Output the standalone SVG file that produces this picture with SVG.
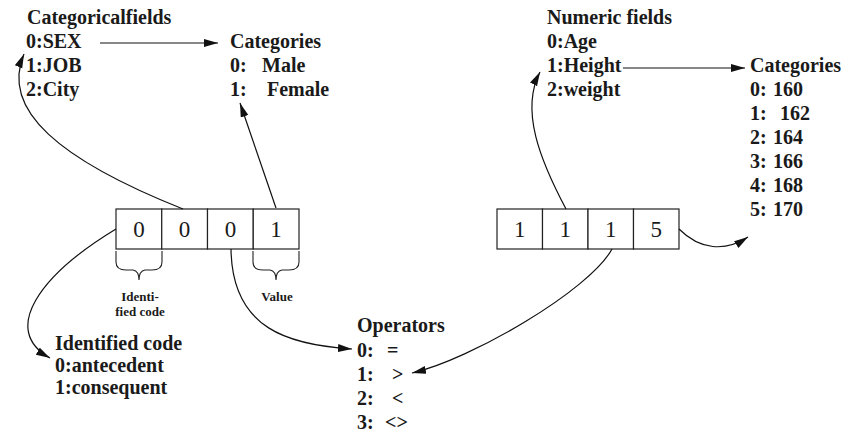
<svg xmlns="http://www.w3.org/2000/svg" width="856" height="433" viewBox="0 0 856 433">
<defs>
<marker id="ah" markerUnits="userSpaceOnUse" markerWidth="15" markerHeight="10" refX="14" refY="4" orient="auto">
<path d="M0,0 L14,4 L0,8 z" fill="#111"/>
</marker>
<style>
.t{font-family:"Liberation Serif","Times New Roman",serif;font-weight:bold;font-size:20px;fill:#1a1a1a}
.s{font-family:"Liberation Serif","Times New Roman",serif;font-weight:bold;font-size:13px;fill:#1a1a1a;text-anchor:middle}
.d{font-family:"Liberation Serif","Times New Roman",serif;font-size:23px;fill:#1a1a1a;text-anchor:middle}
.box{fill:#fff;stroke:#222;stroke-width:1.2}
.c{fill:none;stroke:#222;stroke-width:1.1}
.a{fill:none;stroke:#111;stroke-width:1.2;marker-end:url(#ah)}
</style>
</defs>

<g id="categorical-fields">
<text class="t" x="27" y="24">Categoricalfields</text>
<text class="t" x="26" y="48">0:SEX</text>
<text class="t" x="26" y="72">1:JOB</text>
<text class="t" x="26" y="96">2:City</text>
</g>

<g id="categories-left">
<text class="t" x="230" y="48">Categories</text>
<text class="t" x="230" y="72"><tspan>0:</tspan> <tspan x="262">Male</tspan></text>
<text class="t" x="230" y="96"><tspan>1:</tspan> <tspan x="267">Female</tspan></text>
</g>

<g id="numeric-fields">
<text class="t" x="547" y="24">Numeric fields</text>
<text class="t" x="547" y="48">0:Age</text>
<text class="t" x="547" y="72">1:Height</text>
<text class="t" x="547" y="96">2:weight</text>
</g>

<g id="categories-right">
<text class="t" x="750" y="72">Categories</text>
<text class="t" x="750" y="96"><tspan>0:</tspan> <tspan x="773">160</tspan></text>
<text class="t" x="750" y="120"><tspan>1:</tspan> <tspan x="780">162</tspan></text>
<text class="t" x="750" y="144"><tspan>2:</tspan> <tspan x="773">164</tspan></text>
<text class="t" x="750" y="168"><tspan>3:</tspan> <tspan x="773">166</tspan></text>
<text class="t" x="750" y="192"><tspan>4:</tspan> <tspan x="773">168</tspan></text>
<text class="t" x="750" y="216"><tspan>5:</tspan> <tspan x="773">170</tspan></text>
</g>

<g id="code-left">
<rect class="box" x="116" y="209" width="45.75" height="40"/>
<rect class="box" x="161.75" y="209" width="45.75" height="40"/>
<rect class="box" x="207.5" y="209" width="45.75" height="40"/>
<rect class="box" x="253.25" y="209" width="45.75" height="40"/>
<text class="d" x="139" y="237">0</text>
<text class="d" x="184.6" y="237">0</text>
<text class="d" x="230.4" y="237">0</text>
<text class="d" x="276.1" y="237">1</text>
</g>

<g id="code-right">
<rect class="box" x="497" y="209" width="45.5" height="40"/>
<rect class="box" x="542.5" y="209" width="45.5" height="40"/>
<rect class="box" x="588" y="209" width="45.5" height="40"/>
<rect class="box" x="633.5" y="209" width="45.5" height="40"/>
<text class="d" x="519.7" y="237">1</text>
<text class="d" x="565.2" y="237">1</text>
<text class="d" x="610.7" y="237">1</text>
<text class="d" x="656.2" y="237">5</text>
</g>

<g id="brace-identified">
<path class="c" d="M116,251 V262 Q116,270 126,270 H133 Q139,271 139,280 Q139,271 145,270 H152 Q162,270 162,262 V251"/>
<text class="s" x="140" y="301">Identi-</text>
<text class="s" x="140" y="316">fied code</text>
</g>

<g id="brace-value">
<path class="c" d="M253,251 V262 Q253,270 263,270 H270 Q276,271 276,280 Q276,271 282,270 H289 Q299,270 299,262 V251"/>
<text class="s" x="277" y="301">Value</text>
</g>

<g id="identified-code">
<text class="t" x="55" y="350">Identified code</text>
<text class="t" x="55" y="372">0:antecedent</text>
<text class="t" x="55" y="394">1:consequent</text>
</g>

<g id="operators">
<text class="t" x="357" y="332">Operators</text>
<text class="t" x="357" y="357"><tspan>0:</tspan> <tspan x="387">=</tspan></text>
<text class="t" x="357" y="381"><tspan>1:</tspan> <tspan x="392">&gt;</tspan></text>
<text class="t" x="357" y="405"><tspan>2:</tspan> <tspan x="392">&lt;</tspan></text>
<text class="t" x="357" y="429"><tspan>3:</tspan> <tspan x="385">&lt;&gt;</tspan></text>
</g>

<g id="connectors">
<path class="a" d="M100,43 H218"/>
<path class="a" d="M623,68 H745"/>
<path class="a" d="M183,209 C60,160 0,110 24,54"/>
<path class="a" d="M276,208 L240,103"/>
<path class="a" d="M116,229 C40,275 0,330 50,358"/>
<path class="a" d="M231,249 C232,330 290,345 352,349"/>
<path class="a" d="M612,249 C590,290 470,360 412,373"/>
<path class="a" d="M566,209 C540,160 520,110 540,72"/>
<path class="a" d="M679,229 C700,250 725,252 748,237"/>
</g>
</svg>
